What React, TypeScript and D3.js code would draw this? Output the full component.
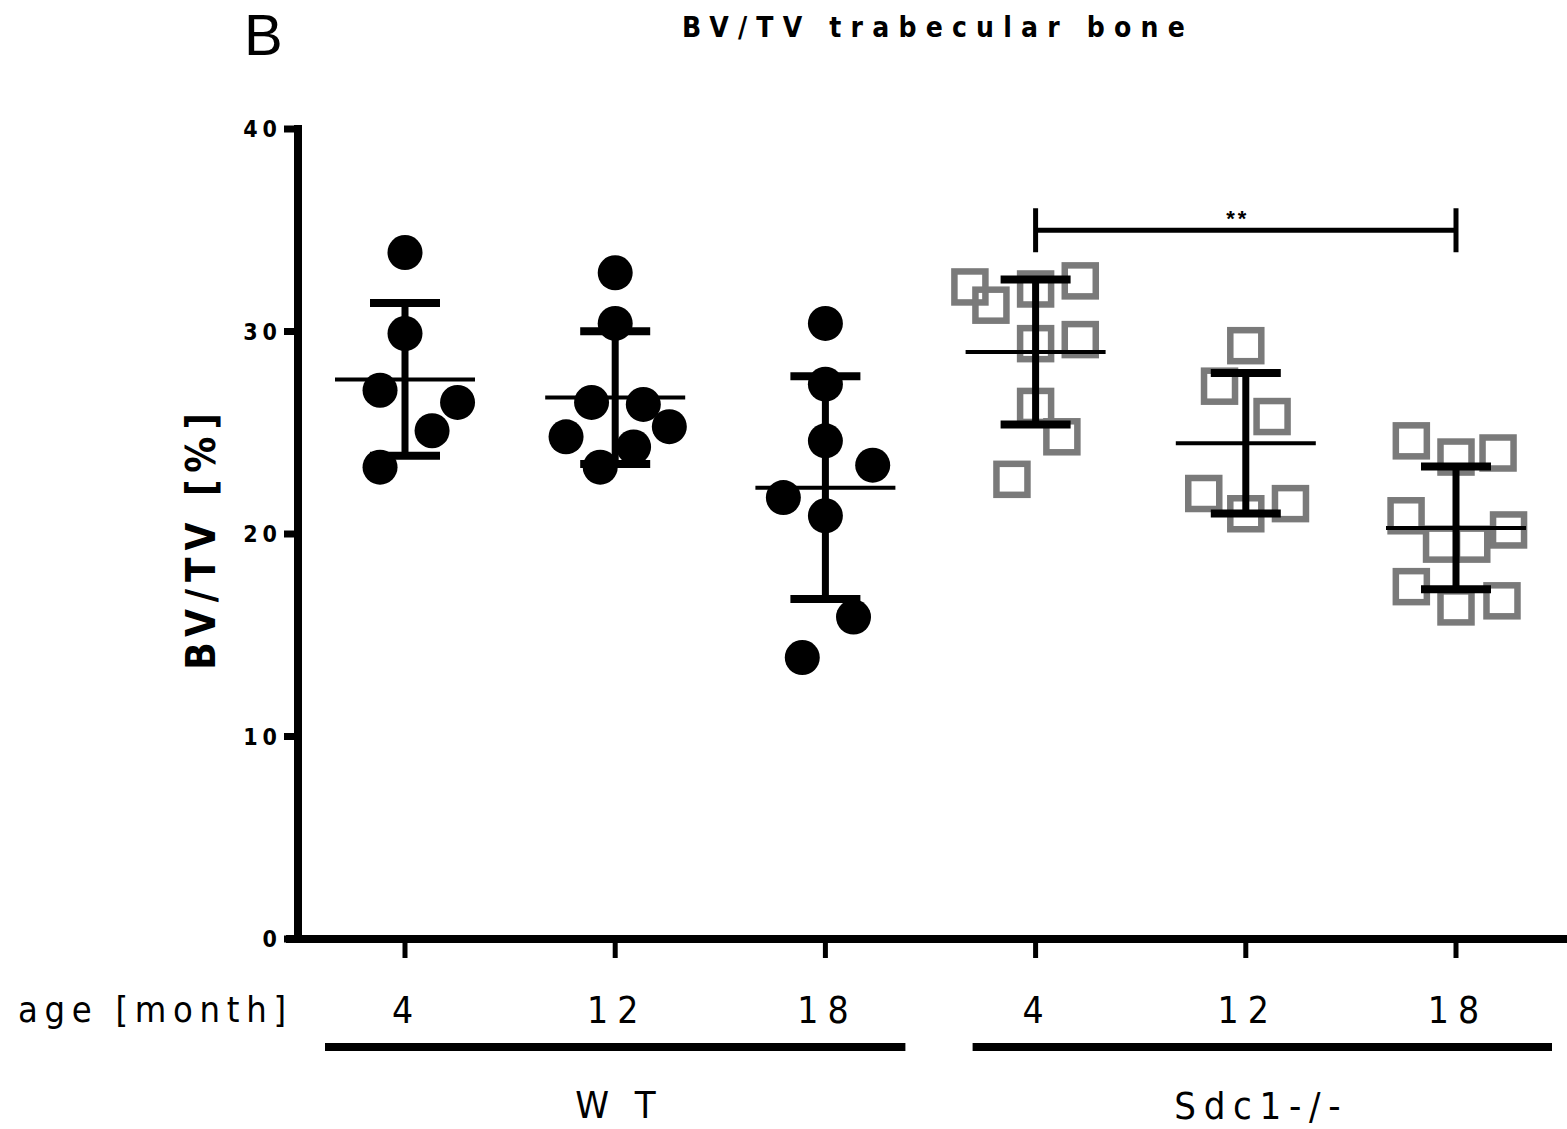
import * as d3 from "d3";

// groups in plot order
const groups = ["WT-4", "WT-12", "WT-18", "Sdc1-4", "Sdc1-12", "Sdc1-18"];
const ageLabels = ["4", "12", "18", "4", "12", "18"];
const yTicks = [0, 10, 20, 30, 40];

// BV/TV values per animal
const wt4 = [33.9, 29.9, 27.1, 26.5, 25.1, 23.3];
const wt12 = [32.9, 30.4, 26.5, 26.4, 24.8, 25.3, 24.3, 23.3];
const wt18 = [30.4, 27.4, 24.6, 23.4, 21.8, 20.9, 15.9, 13.9];
const ko4 = [32.2, 31.3, 32.1, 32.5, 29.4, 29.6, 26.3, 24.8, 22.7];
const ko12 = [29.3, 27.3, 25.8, 22.0, 21.0, 21.5];
const ko18 = [24.6, 23.8, 24.0, 20.9, 20.2, 19.5, 19.5, 17.4, 16.4, 16.7];

// horizontal scatter slot of each point (Prism style spreading)
const wt4Jit = [0, 0, -0.95, 2, 1.03, -0.95];
const wt12Jit = [0, 0, -0.9, 1.07, -1.87, 2.06, 0.7, -0.57];
const wt18Jit = [0, 0, 0, 1.8, -1.6, 0, 1.07, -0.88];
const ko4Jit = [-2.5, -1.7, 0, 1.7, 0, 1.7, 0, 1, -0.9];
const ko12Jit = [0, -1, 1, -1.6, 0, 1.7];
const ko18Jit = [-1.7, 0, 1.6, -1.9, 2, -0.55, 0.6, -1.7, 0, 1.75];

const values = [wt4, wt12, wt18, ko4, ko12, ko18];
const jitters = [wt4Jit, wt12Jit, wt18Jit, ko4Jit, ko12Jit, ko18Jit];

const sigPair = ["Sdc1-4", "Sdc1-18"];
const sigLevel = 35;

const W = 1567;
const H = 1129;
const font = "'Liberation Sans', Arial, Helvetica, sans-serif";
const narrow = "'Liberation Sans Narrow', 'DejaVu Sans Condensed', 'Liberation Sans', sans-serif";
const grey = "#7a7a7a";

export default function App() {
  const x = d3.scalePoint().domain(groups).range([405, 1456]);
  const y = d3.scaleLinear().domain([0, 40]).range([939, 129]);
  const slot = x.step() / 8;

  const stats = values.map((v) => {
    const m = d3.mean(v) as number;
    const sd = d3.deviation(v) as number;
    return { m, sd };
  });

  const axisX = 298;
  const axisY = y(0);

  const wtStart = (x("WT-4") as number) - 80;
  const wtEnd = (x("WT-18") as number) + 80;
  const koStart = (x("Sdc1-4") as number) - 63;
  const koEnd = (x("Sdc1-18") as number) + 96;

  const s0 = x(sigPair[0]) as number;
  const s1 = x(sigPair[1]) as number;
  const sy = y(sigLevel);

  return (
    <svg
      width={W}
      height={H}
      style={{ position: "absolute", left: 0, top: 0, background: "#fff" }}
      fontFamily={narrow}
    >
      <rect width={W} height={H} fill="#fff" />

      {/* panel letter + title */}
      <text x={244} y={55} fontSize={58} fontFamily={font}>
        B
      </text>
      <text
        x={938}
        y={37}
        fontSize={28}
        fontWeight="bold"
        textAnchor="middle"
        letterSpacing={9.2}
      >
        BV/TV trabecular bone
      </text>

      {/* y axis */}
      <line x1={axisX} x2={axisX} y1={y(40) - 4} y2={axisY + 4} stroke="#000" strokeWidth={8} />
      {yTicks.map((t) => (
        <g key={t}>
          <line x1={284} x2={axisX} y1={y(t)} y2={y(t)} stroke="#000" strokeWidth={7} />
          <text
            x={277 + 5}
            y={y(t) + 8}
            fontSize={23}
            fontWeight="bold"
            textAnchor="end"
            letterSpacing={5}
          >
            {t}
          </text>
        </g>
      ))}
      <text
        transform={`translate(215,538) rotate(-90)`}
        fontSize={40}
        fontWeight="bold"
        textAnchor="middle"
        letterSpacing={7}
      >
        BV/TV [%]
      </text>

      {/* x axis */}
      <line x1={286} x2={W} y1={axisY} y2={axisY} stroke="#000" strokeWidth={8} />
      {groups.map((g, i) => (
        <g key={g}>
          <line
            x1={x(g)}
            x2={x(g)}
            y1={axisY}
            y2={axisY + 19}
            stroke="#000"
            strokeWidth={5}
          />
          <text
            x={(x(g) as number) + 2}
            y={1023}
            fontSize={37}
            textAnchor="middle"
            letterSpacing={9}
          >
            {ageLabels[i]}
          </text>
        </g>
      ))}
      <text x={18} y={1022} fontSize={36} letterSpacing={6.7}>
        age [month]
      </text>

      {/* genotype brackets */}
      <line x1={wtStart} x2={wtEnd} y1={1047} y2={1047} stroke="#000" strokeWidth={8} />
      <line x1={koStart} x2={koEnd} y1={1047} y2={1047} stroke="#000" strokeWidth={8} />
      <text x={(wtStart + wtEnd) / 2 + 4} y={1118} fontSize={38} textAnchor="middle" letterSpacing={7.5}>
        W T
      </text>
      <text x={(koStart + koEnd) / 2 - 1} y={1119} fontSize={38} textAnchor="middle" letterSpacing={7.7}>
        Sdc1-/-
      </text>

      {/* points */}
      {values.map((v, gi) =>
        v.map((val, pi) => {
          const cx = (x(groups[gi]) as number) + jitters[gi][pi] * slot;
          const cy = y(val);
          return gi < 3 ? (
            <circle key={`${gi}-${pi}`} cx={cx} cy={cy} r={17.5} fill="#000" />
          ) : (
            <rect
              key={`${gi}-${pi}`}
              x={cx - 15.5}
              y={cy - 15.5}
              width={31}
              height={31}
              fill="none"
              stroke={grey}
              strokeWidth={6.5}
            />
          );
        })
      )}

      {/* mean +/- SD */}
      {stats.map((s, gi) => {
        const cx = x(groups[gi]) as number;
        const top = y(s.m + s.sd);
        const bot = y(s.m - s.sd);
        return (
          <g key={gi} stroke="#000">
            <line x1={cx} x2={cx} y1={top} y2={bot} strokeWidth={7} />
            <line x1={cx - 35} x2={cx + 35} y1={top} y2={top} strokeWidth={8} />
            <line x1={cx - 35} x2={cx + 35} y1={bot} y2={bot} strokeWidth={8} />
            <line x1={cx - 70} x2={cx + 70} y1={y(s.m)} y2={y(s.m)} strokeWidth={4} />
          </g>
        );
      })}

      {/* significance */}
      <g stroke="#000" strokeWidth={5}>
        <line x1={s0} x2={s1} y1={sy} y2={sy} />
        <line x1={s0} x2={s0} y1={sy - 22} y2={sy + 22} />
        <line x1={s1} x2={s1} y1={sy - 22} y2={sy + 22} />
      </g>
      <text
        x={(s0 + s1) / 2 - 8}
        y={226}
        fontSize={22}
        fontWeight="bold"
        textAnchor="middle"
        letterSpacing={3}
        fontFamily={font}
      >
        **
      </text>
    </svg>
  );
}
